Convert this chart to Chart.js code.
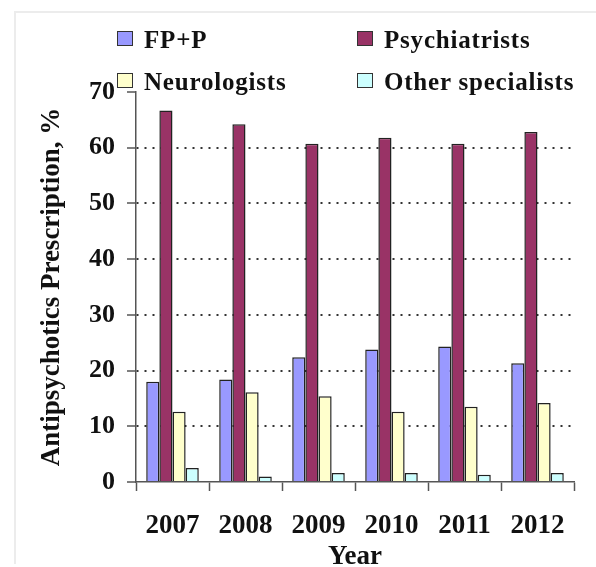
<!DOCTYPE html>
<html lang="en">
<head>
  <meta charset="UTF-8">
  <title>Antipsychotics Prescription by Year</title>
  <script src="https://cdn.jsdelivr.net/npm/chart.js"></script>
  <style>
    html, body {
      margin: 0;
      padding: 0;
      background: #fff;
      overflow: hidden;
    }
    .page {
      position: relative;
      width: 596px;
      height: 567px;
      overflow: hidden;
      background: #fff;
    }
    .frame {
      position: absolute;
      left: 14px;
      top: 11px;
      right: -5px;
      bottom: 3px;
      border-left: 2px solid #ececec;
      border-top: 2px solid #ececec;
    }
    .chart-box {
      position: absolute;
      left: 0;
      top: 0;
      width: 596px;
      height: 577px;
    }
    .legend-item {
      position: absolute;
      font-family: "Liberation Serif", "Times New Roman", serif;
      font-weight: bold;
      font-size: 25px;
      line-height: 25px;
      letter-spacing: 0.8px;
      color: #111;
      white-space: nowrap;
    }
    .legend-box {
      position: absolute;
      width: 14px;
      height: 13px;
      border: 1.5px solid #333;
    }
  </style>
</head>
<body>

<div class="page">
  <div class="frame"></div>
  <div class="chart-box">
    <canvas id="chart"></canvas>
  </div>
  <div id="legend"></div>
</div>

<script>
// values
const years = ['2007', '2008', '2009', '2010', '2011', '2012'];
const fpp = [18.0, 18.4, 22.4, 23.8, 24.3, 21.3];
const psychiatrists = [66.7, 64.2, 60.7, 61.8, 60.7, 62.8];
const neurologists = [12.6, 16.1, 15.4, 12.6, 13.5, 14.2];
const otherSpecialists = [2.5, 1.0, 1.6, 1.6, 1.3, 1.6];

const seriesNames = ['FP+P', 'Psychiatrists', 'Neurologists', 'Other specialists'];
const seriesColors = ['#9999ff', '#993366', '#ffffcc', '#ccffff'];

const yTicks = [0, 10, 20, 30, 40, 50, 60, 70];

const serif = "'Liberation Serif', 'Times New Roman', serif";
const ink = '#111';

const datasets = [fpp, psychiatrists, neurologists, otherSpecialists].map((data, i) => ({
  label: seriesNames[i],
  data,
  backgroundColor: seriesColors[i],
  borderColor: '#222',
  borderWidth: 1.5,
  barPercentage: 1,
  categoryPercentage: 0.72
}));

// legend: two rows, two columns like the original
const legendSpots = [
  { x: 117, y: 31 },
  { x: 357, y: 31 },
  { x: 117, y: 73 },
  { x: 357, y: 73 }
];
const legendEl = document.getElementById('legend');
seriesNames.forEach((name, i) => {
  const spot = legendSpots[i];
  const box = document.createElement('div');
  box.className = 'legend-box';
  box.style.left = spot.x + 'px';
  box.style.top = spot.y + 'px';
  box.style.background = seriesColors[i];
  legendEl.appendChild(box);

  const txt = document.createElement('div');
  txt.className = 'legend-item';
  txt.style.left = (spot.x + 27) + 'px';
  txt.style.top = (spot.y - 4) + 'px';
  txt.textContent = name;
  legendEl.appendChild(txt);
});

new Chart(document.getElementById('chart'), {
  type: 'bar',
  data: {
    labels: years,
    datasets
  },
  options: {
    responsive: true,
    maintainAspectRatio: false,
    animation: false,
    layout: {
      padding: { top: 92, right: 22, left: 32, bottom: 0 }
    },
    plugins: {
      legend: { display: false },
      tooltip: { enabled: false }
    },
    scales: {
      x: {
        afterFit: s => { s.height = 95; },
        grid: {
          display: true,
          offset: true,
          drawOnChartArea: false,
          tickLength: 9,
          tickColor: '#555',
          tickWidth: 1.5
        },
        border: { color: '#555', width: 1.5 },
        ticks: {
          color: ink,
          padding: 19,
          font: { family: serif, size: 27, weight: 'bold' }
        },
        title: {
          display: true,
          text: 'Year',
          color: ink,
          font: { family: serif, size: 27, weight: 'bold' },
          padding: { top: 0, bottom: 4 }
        }
      },
      y: {
        min: 0,
        max: 70,
        afterFit: s => { s.width = 104; },
        afterBuildTicks: s => { s.ticks = yTicks.map(v => ({ value: v })); },
        grid: {
          color: c => (c.tick && (c.tick.value === 0 || c.tick.value === 70)) ? 'rgba(0,0,0,0)' : '#333',
          lineWidth: 2,
          tickLength: 9,
          tickColor: '#555',
          tickWidth: 1.5
        },
        border: { color: '#555', width: 1.5, dash: [2, 6] },
        ticks: {
          color: ink,
          padding: 12,
          font: { family: serif, size: 26, weight: 'bold' }
        },
        title: {
          display: true,
          text: 'Antipsychotics Prescription, %',
          color: ink,
          font: { family: serif, size: 27, weight: 'bold' },
          padding: { top: 4, bottom: 4 }
        }
      }
    }
  }
});
</script>

</body>
</html>
